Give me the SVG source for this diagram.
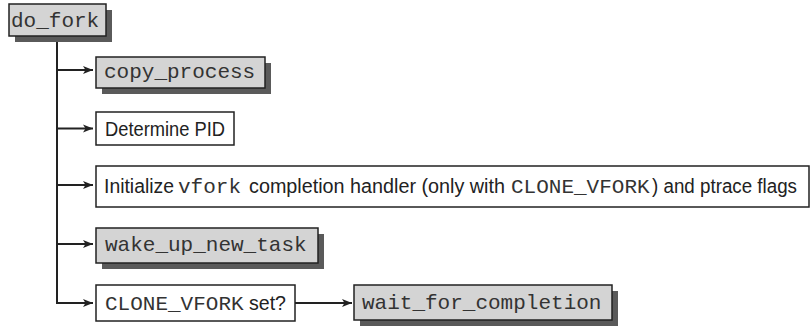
<svg xmlns="http://www.w3.org/2000/svg" width="810" height="326" viewBox="0 0 810 326">
<style>
.box{fill:#fff;stroke:#222;stroke-width:1.5}
.gbox{fill:#d4d4d4;stroke:#222;stroke-width:1.5}
.shadow{fill:#5a5a5a}
.mono{font-family:"Liberation Mono","DejaVu Sans Mono",monospace;font-size:21px;fill:#333}
.sans{font-family:"Liberation Sans",Arial,sans-serif;font-size:19.5px;fill:#222}
.conn{fill:none;stroke:#222;stroke-width:2}
</style>
<defs>
<marker id="arr" markerUnits="userSpaceOnUse" markerWidth="12" markerHeight="10" refX="10" refY="4.5" orient="auto">
<path d="M0,0.5 L10,4.5 L0,8.5 L2.5,4.5 z" fill="#222"/>
</marker>
</defs>
<g id="connectors">
<path class="conn" d="M57,36 V303 H93" marker-end="url(#arr)"/>
<path class="conn" d="M57,70 H93" marker-end="url(#arr)"/>
<path class="conn" d="M57,128.5 H93" marker-end="url(#arr)"/>
<path class="conn" d="M57,185 H93" marker-end="url(#arr)"/>
<path class="conn" d="M57,244 H93" marker-end="url(#arr)"/>
<path class="conn" d="M295,303 H352" marker-end="url(#arr)"/>
</g>
<g id="do_fork">
<rect class="shadow" x="15" y="10" width="97" height="32"/>
<rect class="gbox" x="9" y="4" width="97" height="32"/>
<text class="mono" x="11" y="27">do_fork</text>
</g>
<g id="copy_process">
<rect class="shadow" x="102" y="63" width="169" height="31"/>
<rect class="gbox" x="96" y="57" width="169" height="31"/>
<text class="mono" x="104" y="78">copy_process</text>
</g>
<g id="determine_pid">
<rect class="box" x="96" y="112" width="138" height="33"/>
<text class="sans" x="105" y="136" textLength="120" lengthAdjust="spacingAndGlyphs">Determine PID</text>
</g>
<g id="initialize">
<rect class="box" x="96" y="166" width="713" height="41"/>
<text class="sans" x="104" y="193" textLength="70" lengthAdjust="spacingAndGlyphs">Initialize</text>
<text class="mono" x="178" y="193">vfork</text>
<text class="sans" x="249" y="193" textLength="256" lengthAdjust="spacingAndGlyphs">completion handler (only with</text>
<text class="mono" x="511" y="193">CLONE_VFORK</text>
<text class="sans" x="652" y="193" textLength="145" lengthAdjust="spacingAndGlyphs">) and ptrace flags</text>
</g>
<g id="wake_up_new_task">
<rect class="shadow" x="102" y="234" width="222" height="35"/>
<rect class="gbox" x="96" y="228" width="222" height="35"/>
<text class="mono" x="105" y="251">wake_up_new_task</text>
</g>
<g id="clone_vfork_set">
<rect class="box" x="96" y="285" width="199" height="36"/>
<text class="mono" x="105" y="310">CLONE_VFORK</text>
<text class="sans" x="249" y="310" textLength="37" lengthAdjust="spacingAndGlyphs">set?</text>
</g>
<g id="wait_for_completion">
<rect class="shadow" x="360" y="291" width="258" height="35"/>
<rect class="gbox" x="354" y="285" width="258" height="35"/>
<text class="mono" x="362" y="309">wait_for_completion</text>
</g>
</svg>
